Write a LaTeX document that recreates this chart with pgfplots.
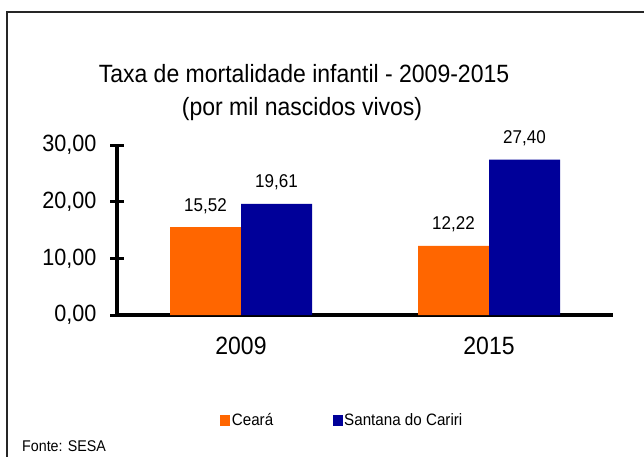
\documentclass[border=0pt]{standalone}
\usepackage{fontspec}
\setmainfont{Liberation Sans}[FakeStretch=0.92]
\usepackage{pgfplots}
\pgfplotsset{compat=1.18}
\definecolor{corange}{RGB}{255,102,0}
\definecolor{cblue}{RGB}{0,0,153}
\begin{document}
\begin{tikzpicture}
\useasboundingbox (0pt,0pt) rectangle (644pt,456pt);
\fill[white] (0pt,0pt) rectangle (644pt,456pt);
\draw[line width=1.3pt,black!85] (7pt,-2pt) -- (7pt,444pt) -- (646pt,444pt);
\node[anchor=base,font=\fontsize{25}{30}\selectfont] at (304pt,373pt) {Taxa de mortalidade infantil - 2009-2015};
\node[anchor=base,font=\fontsize{25}{30}\selectfont] at (302pt,341pt) {(por mil nascidos vivos)};
\node[anchor=base west,inner sep=0pt,font=\fontsize{15.5}{18}\selectfont] at (22pt,5pt) {Fonte: SESA};
\begin{axis}[
  at={(117pt,141pt)}, anchor=south west,
  scale only axis, width=496pt, height=170pt,
  xmin=0, xmax=2, ymin=0, ymax=30,
  clip=false,
  axis lines*=left,
  axis line style={line width=3.5pt,black},
  ybar=0pt, bar width=71pt,
  xtick={0.5,1.5}, xticklabels={2009,2015},
  extra x ticks={0,1,2}, extra x tick labels={},
  ytick={0,10,20,30},
  tick align=center,
  major tick length=14pt,
  y tick style={line width=3pt,black},
  xtick style={draw=none},
  extra x tick style={major tick length=14pt, tick align=center, tick style={line width=3pt,black,draw=black}},
  /pgf/number format/use comma,
  /pgf/number format/fixed,
  /pgf/number format/fixed zerofill,
  /pgf/number format/precision=2,
  /pgf/number format/assume math mode=true,
  yticklabel style={font=\fontsize{23.5}{28}\selectfont, xshift=-10pt},
  xticklabel style={font=\fontsize{25}{30}\selectfont, yshift=-12pt},
  nodes near coords,
  every node near coord/.append style={font=\fontsize{18.5}{22}\selectfont, black, yshift=10pt},
  legend columns=2,
  legend style={at={(0.208,-0.618)}, anchor=west, draw=none, fill=none,
    font=\fontsize{16.5}{20}\selectfont, inner sep=0pt,
    nodes={inner sep=1.5pt},
    /tikz/every even column/.append style={column sep=58pt}},
  legend image code/.code={\fill[#1] (0pt,-5.5pt) rectangle (10pt,5.5pt);},
]
\addplot[fill=corange, draw=none] coordinates {(0.5,15.52) (1.5,12.22)};
\addlegendentry{Ceará}
\addplot[fill=cblue, draw=none] coordinates {(0.5,19.61) (1.5,27.40)};
\addlegendentry{Santana do Cariri}
\end{axis}
\end{tikzpicture}
\end{document}
